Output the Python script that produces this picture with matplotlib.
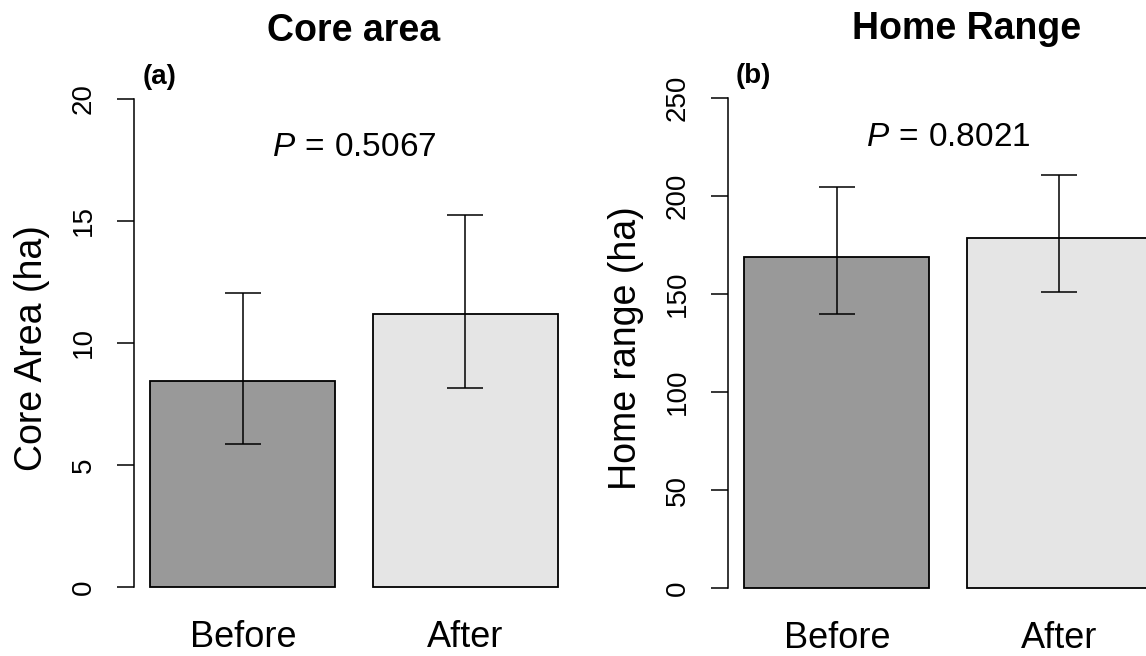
import matplotlib
matplotlib.use("Agg")
import matplotlib.pyplot as plt

plt.rcParams['font.family'] = ['Liberation Sans', 'DejaVu Sans']
plt.rcParams['mathtext.fontset'] = 'custom'
plt.rcParams['mathtext.rm'] = 'Liberation Sans'
plt.rcParams['mathtext.it'] = 'Liberation Sans:italic'

groups = ["Before", "After"]
bar_colors = ["#999999", "#e5e5e5"]

# core area (ha): mean with lower / upper limits
core_mean = [8.45, 11.2]
core_lo = [5.85, 8.15]
core_hi = [12.05, 15.25]
core_p = "0.5067"

# home range (ha)
home_mean = [169.0, 178.6]
home_lo = [140.0, 151.0]
home_hi = [204.6, 210.7]
home_p = "0.8021"

W, H = 1146, 656
fig = plt.figure(figsize=(W / 100, H / 100), dpi=100)

# barplot style: width 1, space 0.2
xpos = [0.7, 1.9]


def panel(rect, mean, lo, hi, ymax, yticks, ylab, title, title_x, tag, ptxt, py):
    ax = fig.add_axes(rect)
    ax.bar(xpos, mean, width=1.0, color=bar_colors, edgecolor="black",
           linewidth=1.3, clip_on=False, zorder=2)
    err = [[m - l for m, l in zip(mean, lo)], [h - m for m, h in zip(mean, hi)]]
    ax.errorbar(xpos, mean, yerr=err, fmt="none", ecolor="black",
                elinewidth=1.1, capsize=13, capthick=1.1, zorder=3)
    ax.set_xlim(0.112, 2.488)
    ax.set_ylim(0, ymax)
    for s in ["top", "right", "bottom"]:
        ax.spines[s].set_visible(False)
    ax.spines["left"].set_linewidth(1.1)
    ax.set_yticks(yticks)
    ax.set_yticklabels([str(t) for t in yticks], rotation=90, va="center")
    ax.tick_params(axis="y", length=12, width=1.1, pad=15, labelsize=20)
    ax.set_xticks(xpos)
    ax.set_xticklabels(groups)
    ax.tick_params(axis="x", length=0, pad=24, labelsize=26)
    ax.set_ylabel(ylab, fontsize=27)
    ax.yaxis.set_label_coords(-0.19, 0.49)
    ax.text(1.3, py, r"$P\,=\,$" + ptxt, ha="center", va="center", fontsize=24)
    ax.text(0.249, ymax * 1.045, tag, ha="center", va="center",
            fontsize=20, fontweight="bold", clip_on=False)
    ax.text(title_x, ymax * 1.14, title, ha="center", va="center",
            fontsize=27, fontweight="bold", clip_on=False)
    return ax


panel([134 / W, 1 - 587 / H, 440 / W, 488 / H], core_mean, core_lo, core_hi,
      20, [0, 5, 10, 15, 20], "Core Area (ha)", "Core area", 1.3, "(a)",
      core_p, 18)
panel([728 / W, 1 - 588 / H, 440 / W, 490 / H], home_mean, home_lo, home_hi,
      250, [0, 50, 100, 150, 200, 250], "Home range (ha)", "Home Range", 1.4,
      "(b)", home_p, 230)

fig.savefig("out.png", dpi=100)
